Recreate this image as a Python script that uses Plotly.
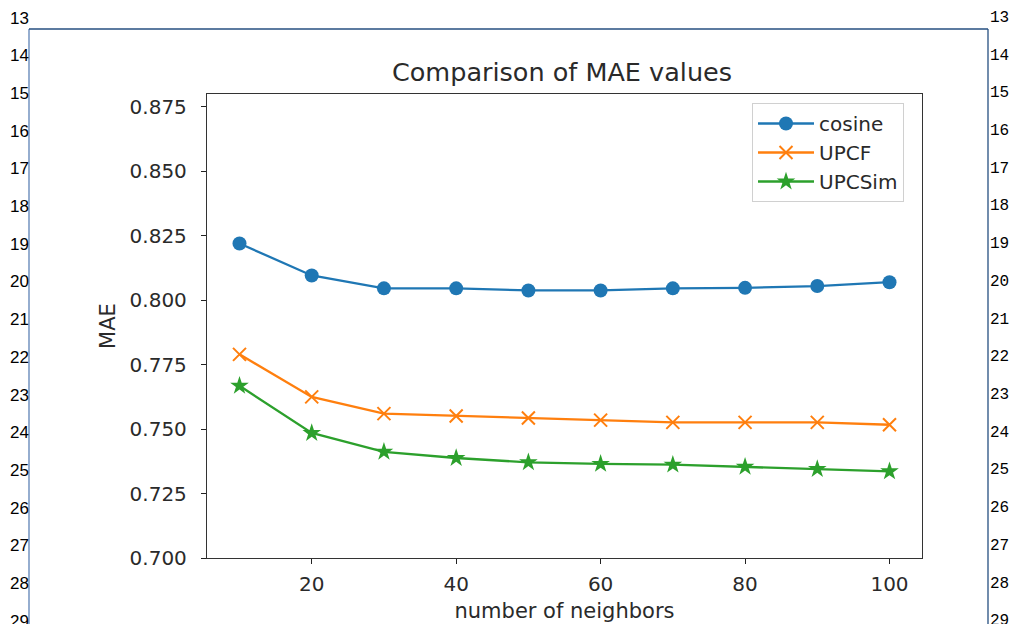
import plotly.graph_objects as go

# ---- data ----
neighbors = [10, 20, 30, 40, 50, 60, 70, 80, 90, 100]
cosine = [0.8220, 0.8096, 0.8046, 0.8046, 0.8038, 0.8038, 0.8046, 0.8048, 0.8055, 0.8070]
upcf = [0.7790, 0.7625, 0.7560, 0.7551, 0.7543, 0.7535, 0.7526, 0.7526, 0.7526, 0.7517]
upcsim = [0.7668, 0.7485, 0.7412, 0.7388, 0.7371, 0.7365, 0.7362, 0.7354, 0.7345, 0.7336]
series_names = ["cosine", "UPCF", "UPCSim"]
y_ticks = [0.700, 0.725, 0.750, 0.775, 0.800, 0.825, 0.850, 0.875]
x_ticks = [20, 40, 60, 80, 100]
line_numbers = list(range(13, 30))

# ---- geometry (body margin removed by post_script) ----
OFF = 0
W, H = 1009 - OFF, 624 - OFF
L, R, T, B = 207 - OFF, 87, 94 - OFF, 66
PW, PH = W - L - R, H - T - B


def px(x):
    return (x - OFF - L) / PW


def py(y):
    return (H - B - (y - OFF)) / PH


TXT = "#2a2a2a"
FONT = "DejaVu Sans"

fig = go.Figure()
styles = [
    dict(color="#1f77b4", symbol="circle", size=14, line=dict(width=0)),
    dict(color="#ff7f0e", symbol="x-thin", size=13, line=dict(width=2, color="#ff7f0e")),
    dict(color="#2ca02c", symbol="star", size=14, line=dict(width=0)),
]
for name, vals, mk in zip(series_names, [cosine, upcf, upcsim], styles):
    fig.add_trace(go.Scatter(
        x=neighbors, y=vals, name=name, mode="lines+markers",
        line=dict(color=mk["color"], width=2.3),
        marker=mk,
    ))

fig.update_layout(
    width=W, height=H,
    margin=dict(l=L, r=R, t=T, b=B, autoexpand=False),
    paper_bgcolor="white", plot_bgcolor="white",
    font=dict(family=FONT, size=20, color=TXT),
    title=dict(text="Comparison of MAE values", xref="container", x=(562 - OFF) / W,
               xanchor="center", y=1 - (72 - OFF) / H, yanchor="middle",
               font=dict(size=25.5, color=TXT)),
    showlegend=True,
    legend=dict(x=px(752), y=py(103), xanchor="left", yanchor="top",
                bgcolor="white", bordercolor="#d0d0d0", borderwidth=1,
                font=dict(size=20, color=TXT), itemwidth=56),
)
fig.update_xaxes(
    range=[5.5, 104.5], tickvals=x_ticks, ticks="outside", ticklen=5, tickwidth=1.2,
    tickcolor="#222", showline=True, linecolor="#333", linewidth=1.3, mirror=True,
    showgrid=False, zeroline=False, tickfont=dict(size=20, color=TXT),
    ticklabelstandoff=3,
    title=dict(text="number of neighbors", font=dict(size=21, color=TXT), standoff=8),
)
fig.update_yaxes(
    range=[0.700, 0.880], tickvals=y_ticks, tickformat=".3f", ticks="outside", ticklen=5,
    tickwidth=1.2, tickcolor="#222", showline=True, linecolor="#333", linewidth=1.3,
    mirror=True, showgrid=False, zeroline=False, tickfont=dict(size=20, color=TXT),
    ticklabelstandoff=10,
    title=dict(text="MAE", font=dict(size=21, color=TXT), standoff=8),
)

# ---- page decorations (surrounding frame and line numbers) ----
frame_col = "#264f80"
fig.add_shape(type="line", xref="paper", yref="paper", x0=px(29), x1=px(29),
              y0=py(29), y1=py(630), line=dict(color="#5d82b5", width=1.3))
fig.add_shape(type="line", xref="paper", yref="paper", x0=px(29), x1=px(988),
              y0=py(29), y1=py(29), line=dict(color=frame_col, width=1.3))
fig.add_shape(type="line", xref="paper", yref="paper", x0=px(988), x1=px(988),
              y0=py(29), y1=py(630), line=dict(color=frame_col, width=1.3))
for k, n in enumerate(line_numbers):
    yc = 18 + 37.7 * k
    fig.add_annotation(text=str(n), xref="paper", yref="paper", x=px(8), y=py(yc),
                       xanchor="left", yanchor="middle", showarrow=False,
                       font=dict(family="Liberation Sans", size=17, color="black"))
    fig.add_annotation(text=str(n), xref="paper", yref="paper", x=px(988), y=py(yc),
                       xanchor="left", yanchor="middle", showarrow=False,
                       font=dict(family="Liberation Mono", size=16, color="black"))

fig.write_html(
    "out.html",
    config={"displayModeBar": False},
    post_script="document.body.style.margin='0';document.body.style.overflow='hidden';",
)
